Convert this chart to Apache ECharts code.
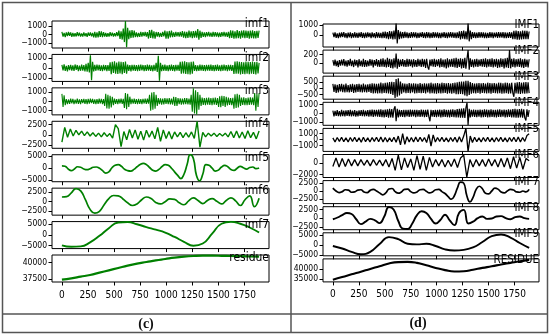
<!DOCTYPE html>
<html><head><meta charset="utf-8">
<script src="https://cdn.jsdelivr.net/npm/echarts@6/dist/echarts.min.js"></script>
<style>html,body{margin:0;padding:0;background:#fff}#c{width:550px;height:336px}</style>
</head><body><div id="c"></div>
<script>
// ---------- shared ----------
const sampleEnd = 1890;                 // last sample index of every decomposition
const xTicks = [0, 250, 500, 750, 1000, 1250, 1500, 1750];

// ---------- panel (c): green decomposition ----------
const cNames = ['imf1', 'imf2', 'imf3', 'imf4', 'imf5', 'imf6', 'imf7', 'residue'];
const c_imf1 = [300,-250,180,-320,260,-200,310,-150,240,-290,200,-260,150,-230,270,-180,220,-250,130,-240,260,-200,170,-280,230,-160,250,-220,190,-350,300,-380,250,-330,400,-280,360,-310,270,-250,200,-270,160,-240,280,-190,230,-260,150,-220,270,-200,450,-520,380,-600,700,-900,1600,-1500,800,-550,480,-420,520,-380,450,-300,260,-320,200,-280,310,-240,270,-190,300,-250,280,-480,520,-400,550,-450,380,-500,300,-260,280,-320,200,-270,310,-230,450,-480,380,-500,420,-350,470,-300,250,-280,320,-220,290,-260,300,-240,400,-380,350,-420,300,-400,450,-350,380,-430,400,-360,420,-380,650,-600,450,-400,300,-280,250,-320,270,-230,300,-260,220,-290,310,-250,280,-240,260,-300,230,-270,290,-220,300,-260,250,-280,320,-420,480,-400,450,-500,380,-460,520,-420,400,-480,450,-380,500,-440,470,-410,430,-500,460,-420,480,-450,400,-470,430,-400,450];
const c_imf2 = [300,-250,350,-300,200,-330,280,-220,310,-270,250,-300,340,-200,290,-310,230,-280,320,-260,280,-350,400,-380,500,-450,1250,-1200,600,-350,300,-280,330,-250,310,-290,260,-320,300,-240,280,-310,270,-300,550,-620,600,-500,650,-580,520,-600,640,-550,600,-620,580,-500,620,-560,320,-300,280,-330,300,-260,310,-290,270,-320,300,-280,330,-250,290,-310,280,-300,320,-270,300,-290,260,-330,310,-280,500,-400,1200,-1250,500,-320,300,-280,330,-300,260,-310,290,-270,320,-300,280,-330,310,-260,300,-290,600,-580,620,-550,650,-600,580,-620,550,-640,600,-560,620,-300,280,-320,260,-300,330,-270,310,-290,280,-320,300,-260,310,-280,330,-300,270,-310,290,-280,320,-300,260,-310,300,-280,330,-270,290,-320,300,-260,310,-290,280,-600,620,-580,650,-560,600,-630,580,-600,550,-620,640,-570,600,-610,590,-560,620,-600,580,-640,600,-550,500];
const c_imf3 = [800,-600,650,-400,250,-300,200,-280,300,-220,260,-300,180,-250,300,-270,220,-300,250,-200,280,-260,230,-300,270,-240,300,-200,260,-280,220,-300,250,-270,290,-230,260,-300,240,-500,800,-750,700,-800,600,-650,500,-400,300,-280,250,-300,270,-230,300,-260,280,-700,900,-850,800,-600,500,-300,280,-250,300,-270,230,-300,260,-280,250,-300,270,-230,290,-260,300,-250,700,-1000,950,-900,1000,-800,700,-500,350,-300,330,-350,300,-320,350,-280,330,-300,360,-320,300,-340,500,-480,450,-500,350,-300,330,-350,300,-320,340,-300,350,-330,300,-350,700,-1100,1400,-1300,1200,-1400,1000,-900,700,-500,400,-380,350,-400,380,-350,400,-370,350,-400,380,-360,400,-380,350,-600,550,-620,600,-500,580,-600,500,-450,400,-380,350,-400,380,-800,750,-700,800,-650,700,-500,400,-380,420,-400,350,-420,400,-380,420,-350,400,-400,900,-1000,800,-600,900];
const c_imf4 = [-1800,1800,-600,1400,-300,1100,0,900,-200,700,-300,500,-400,400,-500,500,-400,300,-800,2500,1500,-2900,800,-1200,1300,-800,1200,-1100,900,-1300,1100,-600,900,-1000,1800,-1600,1200,-900,800,-1000,700,-500,600,-700,500,-600,700,-900,3300,-3000,600,-500,400,-300,400,-400,300,-300,400,-500,800,-700,900,-800,700,-900,1000,-700,600,-1000,900];
const c_imf5 = [1000,800,-300,-1000,-300,600,400,-300,-600,-200,400,500,0,-1000,-2000,-1500,200,1200,1500,800,-400,-1000,-1200,-500,600,1500,2000,1500,300,-800,-1200,-500,700,1500,1200,0,-1500,-3000,-4300,-2500,1500,5600,4000,-3000,-5200,-2500,1500,1200,0,-1200,-800,500,1200,600,-500,-900,0,800,200,-400,300,500,-200,100];
const c_imf6 = [1200,1300,2300,3400,2800,500,-2000,-3000,-2500,-800,800,1600,1500,700,-300,-1000,-600,500,1200,800,-200,-600,0,700,600,-300,-800,200,1000,300,-500,300,800,100,-600,300,1000,200,-1000,500,1500,-1300,900];
const c_imf7 = [-4800,-5500,-5300,-3500,-500,3000,5600,5800,4800,3500,2300,1000,-1000,-3200,-5000,-4000,500,5000,5900,5000,3300,1000];
const c_res  = [37400,37600,37850,38100,38450,38800,39150,39500,39800,40050,40300,40500,40700,40850,40950,41000,41000,40980,40950,40920,40880,40850];
const cSeries = [c_imf1, c_imf2, c_imf3, c_imf4, c_imf5, c_imf6, c_imf7, c_res];
const cSmooth = [false, false, false, false, true, true, true, true];
const cYRange = [[-1600,1600],[-1330,1330],[-1450,1450],[-3300,3300],[-5600,5600],[-3500,3500],[-6300,6000],[37050,41100]];
const cYTicks = [[-1000,0,1000],[-1000,0,1000],[-1000,0,1000],[-2500,0,2500],[-5000,0,5000],[-2500,0,2500],[-5000,0,5000],[37500,40000]];

// ---------- panel (d): black decomposition ----------
const dNames = ['IMF1','IMF2','IMF3','IMF4','IMF5','IMF6','IMF7','IMF8','IMF9','RESIDUE'];
const d_imf1 = [250,-200,280,-260,180,-300,230,-220,270,-180,300,-250,200,-280,240,-210,260,-300,190,-240,280,-230,220,-270,250,-200,300,-260,210,-280,240,-250,270,-200,230,-300,260,-220,200,-280,300,-240,250,-270,220,-300,330,-280,350,-320,300,-380,400,-350,380,-420,450,-400,1200,-800,500,-400,350,-320,300,-280,330,-250,270,-300,220,-260,300,-240,280,-210,260,-300,230,-270,250,-200,290,-260,240,-280,300,-230,260,-290,220,-270,300,-250,280,-240,260,-300,230,-280,250,-220,300,-260,240,-290,270,-230,300,-250,280,-260,240,-300,260,-280,380,-420,400,-350,450,-400,380,-420,1200,-600,450,-400,300,-260,280,-300,240,-270,300,-250,280,-230,260,-300,250,-280,230,-260,300,-240,270,-300,250,-220,280,-260,300,-240,270,-250,300,-280,260,-300,240,-270,300,-260,280,-400,420,-380,450,-430,400,-450,380,-420,450,-400,430,-380,420,-400,350];
const d_imf2 = [70,-60,80,-70,50,-90,70,-60,80,-50,90,-70,60,-80,70,-60,100,-70,60,-90,80,-60,70,-100,90,-70,60,-80,100,-90,70,-80,60,-70,90,-60,80,-100,70,-60,90,-80,70,-90,100,-80,110,-90,80,-100,120,-90,100,-110,90,-120,110,-100,220,-130,100,-90,80,-70,90,-80,70,-90,100,-80,90,-70,80,-100,90,-80,70,-90,100,-70,80,-90,100,-80,90,-110,100,-90,-150,80,-70,90,-80,100,-90,80,-70,90,-100,110,-90,80,-100,90,-120,110,-100,90,-80,100,-90,110,-100,120,-110,100,-90,110,-120,100,-110,120,-130,110,300,-150,110,-90,80,-100,90,-80,100,-90,80,-70,90,-80,100,-90,110,-100,90,-80,100,-90,110,-100,90,-80,100,-110,90,-100,110,-90,100,-120,110,-100,120,-110,300,-120,100,-90,110,-100,90,-80,100,-90,110,-100,90,-110,100,-90,80,-100,90];
const d_imf3 = [350,-300,320,-380,280,-350,330,-260,350,-320,300,-350,380,-330,260,-350,320,-300,350,-380,290,-340,330,-300,360,-320,300,-350,380,-330,300,-350,320,-300,350,-380,400,-420,380,-400,350,-420,380,-400,450,-420,400,-380,430,-400,450,-420,500,-480,520,-550,500,-800,750,-700,800,-600,550,-450,400,-350,380,-400,350,-380,420,-400,380,-350,400,-420,380,-400,350,-380,420,-400,350,-380,400,-420,380,-350,400,-420,450,-400,380,-420,400,-450,420,-400,380,-420,450,-400,420,-380,400,-450,420,-400,380,-450,420,-400,450,-500,480,-500,520,-480,550,-500,550,-600,600,-650,600,-550,500,-450,420,-400,380,-420,400,-380,420,-450,400,-380,420,-400,380,-420,450,-400,420,-450,400,-380,420,-400,380,-420,450,-400,430,-450,400,-420,450,-400,430,-450,400,-420,450,-400,-700,450,-420,480,-450,500,-480,450,-420,480,-450,500,-430,480,-400];
const d_imf4 = [300,-350,280,-300,350,-330,260,-350,380,-320,300,-350,330,-280,350,-320,380,-350,300,-330,350,-380,280,-350,320,-300,350,-330,380,-350,300,-330,350,-380,400,-350,420,-400,380,-350,400,-380,420,-400,450,-420,400,-450,420,-400,450,-480,500,-450,480,-500,450,800,-900,500,-450,400,-380,350,-400,380,-420,400,-350,380,-400,420,-380,400,-350,380,-420,400,-380,350,-400,420,-380,400,-420,380,-400,420,-380,-900,400,-380,350,-400,380,-420,400,-380,420,-450,400,-420,450,-400,380,-420,400,-450,420,-400,450,-420,400,-450,480,-450,500,-480,520,-500,550,-520,600,1200,-1300,500,-450,400,-380,420,-400,380,-420,400,-380,420,-450,400,-420,450,-400,430,-450,400,-420,450,-400,380,-420,400,-450,420,-400,450,-420,400,-380,420,-450,400,-430,450,-400,420,-450,480,-450,500,-480,450,-500,480,-450,500,-480,450,-500,-800,450,-400,350];
const d_imf5 = [300,-400,350,-300,400,-350,300,-400,350,-300,400,-350,300,-450,400,-350,300,-400,350,-300,400,-350,450,-400,350,-400,300,-350,400,-450,600,-900,1000,-800,500,-400,350,-400,450,-350,400,-300,350,-500,900,-1100,800,-400,350,-300,400,-350,300,-400,350,-300,400,-450,500,-400,600,1900,-2000,600,-500,400,-350,300,-400,350,-300,400,-350,300,-400,350,-300,400,-350,300,-400,350,-300,400,-350,450,-400,350,-300,700,1000];
const d_imf6 = [-600,900,-700,800,-600,700,-500,600,-500,600,-400,500,-500,600,-400,500,-500,600,-700,800,-1300,1400,-1200,900,-800,700,-1300,1300,-1100,1200,-1300,1000,-700,600,-500,600,-700,500,-600,700,-800,900,1400,-2500,600,-700,600,-500,600,-600,700,-500,600,-700,800,-700,900,-1000,1100,-900,1000,-1100,800,400];
const d_imf7 = [900,0,-500,-200,400,300,-400,-300,300,400,-300,-500,200,500,0,-600,-1200,-600,600,800,-200,-700,-300,500,600,-200,-600,-300,400,500,-100,-600,-300,400,500,-200,-800,-1800,-2600,-1500,1000,2800,2500,-1500,-3500,-2000,500,1500,700,-700,-900,0,900,600,-300,-600,0,500,300,-300,-400,0,-300,500];
const d_imf8 = [-300,200,900,1500,1200,-300,-1700,-1000,-200,-600,-1400,500,3200,2500,-800,-3000,-3100,-1500,900,2000,1500,-200,-1500,-500,1000,-600,-2000,1500,2400,-1500,-1000,0,500,-200,-100,500,600,0,-300,300,500,0,-200];
const d_imf9 = [-500,-1800,-3500,-4700,-3500,500,4000,3000,600,300,600,-500,-2200,-2800,-2500,-1200,1500,4500,5300,3800,1000,-1500];
const d_res  = [34600,35900,37300,38600,40000,41300,42700,43400,43500,43000,41800,40500,39400,38700,38800,39600,40500,41300,42200,43000,43800,44500];
const dSeries = [d_imf1, d_imf2, d_imf3, d_imf4, d_imf5, d_imf6, d_imf7, d_imf8, d_imf9, d_res];
const dSmooth = [false, false, false, false, false, false, true, true, true, true];
const dYRange = [[-1150,1080],[-230,300],[-900,980],[-1350,1240],[-2000,1900],[-2550,1500],[-4000,3300],[-3300,3300],[-5500,6200],[33500,45000]];
const dYTicks = [[0,1000],[0,200],[-500,0,500],[-1000,0,1000],[-1000,0,1000],[-2000,0],[-2500,0,2500],[-2500,0,2500],[-5000,0,5000],[35000,40000]];

// ---------- build ----------
const FONT = '"Liberation Sans Narrow","DejaVu Sans Condensed","Liberation Sans",sans-serif';
const fmt = v => (v < 0 ? '\u2212' + Math.abs(v) : String(v));
function toPts(arr) {
  const n = arr.length;
  return arr.map((v, i) => [Math.round(i * sampleEnd / (n - 1)), v]);
}

const grids = [], xAxes = [], yAxes = [], series = [], graphics = [];

function addPanel(names, data, smooth, yRange, yTicks, cfg) {
  const n = names.length;
  names.forEach((name, k) => {
    const idx = grids.length;
    const top = cfg.top0 + cfg.pitch * k;
    grids.push({ left: cfg.left, top: top, width: cfg.width, height: cfg.height,
      show: true, borderColor: '#000', borderWidth: 1, backgroundColor: 'transparent' });
    const last = k === n - 1;
    xAxes.push({ type: 'value', gridIndex: idx, min: -95, max: 1985,
      axisLine: { show: false, onZero: false }, splitLine: { show: false },
      axisTick: { show: true, inside: false, length: 3.5, customValues: xTicks, lineStyle: { color: '#000' } },
      axisLabel: { show: last, customValues: xTicks, formatter: v => String(v), hideOverlap: false,
        margin: 8, fontSize: 10, color: '#000', fontFamily: FONT } });
    // one y axis per tick value, so that tightly packed labels are all drawn (like the reference)
    const firstY = yAxes.length;
    yTicks[k].forEach(t => {
      yAxes.push({ type: 'value', gridIndex: idx, position: 'left', offset: 0,
        min: yRange[k][0], max: yRange[k][1],
        axisLine: { show: false, onZero: false }, splitLine: { show: false },
        axisTick: { show: true, inside: false, length: 3.5, customValues: [t], lineStyle: { color: '#000' } },
        axisLabel: { show: true, customValues: [t], formatter: fmt, hideOverlap: false,
          showMinLabel: true, showMaxLabel: true,
          margin: 5, fontSize: 8.5, color: '#000', fontFamily: FONT } });
    });
    series.push({ type: 'line', xAxisIndex: idx, yAxisIndex: firstY, data: toPts(data[k]),
      showSymbol: false, smooth: smooth[k], animation: false,
      lineStyle: { color: cfg.color, width: cfg.widths[k] } });
    graphics.push({ type: 'text', x: cfg.left + cfg.width, y: top + cfg.titleDy, z: 100,
      style: { text: name, fill: '#000', fontSize: cfg.titleSize, fontFamily: FONT, align: 'right', verticalAlign: 'middle' } });
  });
}

addPanel(cNames, cSeries, cSmooth, cYRange, cYTicks,
  { left: 52, width: 217, top0: 21, pitch: 33.43, height: 27, color: '#008000', titleDy: 3, titleSize: 12,
    widths: [1.2, 1.2, 1.1, 1.4, 1.7, 1.7, 1.9, 2.2] });
addPanel(dNames, dSeries, dSmooth, dYRange, dYTicks,
  { left: 323, width: 216, top0: 24, pitch: 26.1, height: 23, color: '#000', titleDy: 1, titleSize: 11.5,
    widths: [1.2, 1.2, 1.2, 1.2, 1.3, 1.3, 1.7, 1.9, 1.9, 2.1] });

// frame and panel captions
graphics.push(
  { type: 'rect', z: 50, shape: { x: 2.5, y: 2.5, width: 545, height: 330 }, style: { fill: 'none', stroke: '#555', lineWidth: 1.5 } },
  { type: 'line', z: 50, shape: { x1: 291, y1: 2.5, x2: 291, y2: 332.5 }, style: { stroke: '#555', lineWidth: 1.5 } },
  { type: 'line', z: 50, shape: { x1: 2.5, y1: 314, x2: 547.5, y2: 314 }, style: { stroke: '#555', lineWidth: 1.5 } },
  { type: 'text', z: 100, x: 146, y: 324, style: { text: '(c)', fill: '#111', fontSize: 14, fontWeight: 'bold', fontFamily: '"Liberation Serif","DejaVu Serif",serif', align: 'center', verticalAlign: 'middle' } },
  { type: 'text', z: 100, x: 418, y: 323, style: { text: '(d)', fill: '#111', fontSize: 14, fontWeight: 'bold', fontFamily: '"Liberation Serif","DejaVu Serif",serif', align: 'center', verticalAlign: 'middle' } }
);

const chart = echarts.init(document.getElementById('c'), null, { renderer: 'canvas' });
chart.setOption({ animation: false, backgroundColor: '#fff', grid: grids, xAxis: xAxes, yAxis: yAxes, series: series, graphic: graphics });
</script>
</body></html>
